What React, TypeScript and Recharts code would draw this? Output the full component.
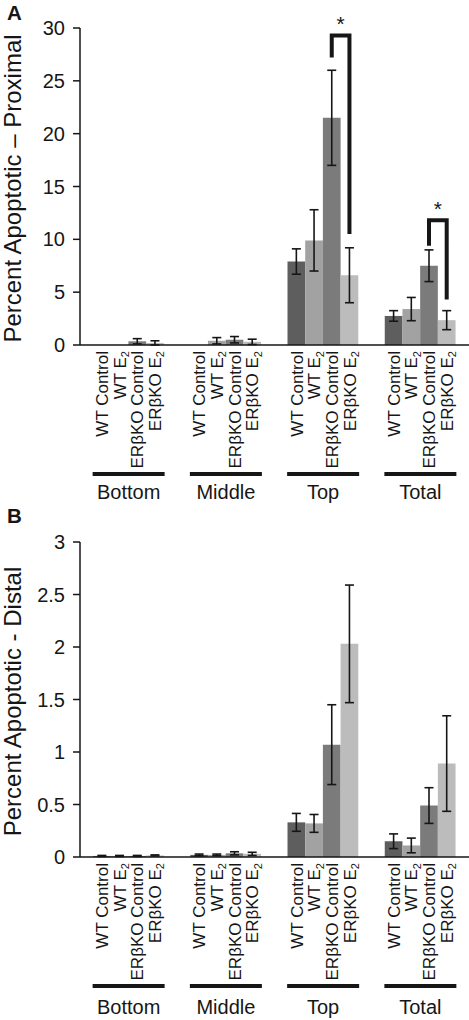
import React from 'react';
import { BarChart, Bar, XAxis, YAxis, ErrorBar, LabelList } from 'recharts';

const FONT = '"Liberation Sans", Arial, Helvetica, sans-serif';
const INK = '#161616';
const BAR_SIZE = 17.7;

const groups = ['Bottom', 'Middle', 'Top', 'Total'];
const seriesNames = ['WT Control', 'WT E', 'ERβKO Control', 'ERβKO E'];
const seriesSubs = ['', '2', '', '2'];
const seriesColors = ['#5e5e5e', '#a2a2a2', '#7b7b7b', '#bcbcbc'];

// A: percent apoptotic, proximal
const proxWtControl = [0, 0, 7.9, 2.75];
const proxWtControlErr = [0, 0, 1.2, 0.5];
const proxWtE2 = [0, 0.4, 9.9, 3.4];
const proxWtE2Err = [0, 0.3, 2.9, 1.1];
const proxKoControl = [0.35, 0.5, 21.5, 7.5];
const proxKoControlErr = [0.25, 0.3, 4.5, 1.5];
const proxKoE2 = [0.2, 0.3, 6.6, 2.35];
const proxKoE2Err = [0.2, 0.25, 2.6, 0.9];
const yTicksProximal = [0, 5, 10, 15, 20, 25, 30];

// significance brackets (ERβKO Control vs ERβKO E2), in data units
const bracketTop = [null, null, 29.3, 11.8];
const bracketLeftEnd = [null, null, 27.2, 9.4];
const bracketRightEnd = [null, null, 10.5, 4.3];

// B: percent apoptotic, distal
const distWtControl = [0.01, 0.02, 0.33, 0.15];
const distWtControlErr = [0.005, 0.008, 0.085, 0.07];
const distWtE2 = [0.01, 0.02, 0.32, 0.11];
const distWtE2Err = [0.005, 0.008, 0.085, 0.07];
const distKoControl = [0.01, 0.035, 1.07, 0.49];
const distKoControlErr = [0.005, 0.015, 0.38, 0.17];
const distKoE2 = [0.015, 0.03, 2.03, 0.89];
const distKoE2Err = [0.005, 0.015, 0.56, 0.455];
const yTicksDistal = [0, 0.5, 1, 1.5, 2, 2.5, 3];

function buildRows(values: number[][], errors: number[][]) {
  return groups.map((g, i) => {
    const row: Record<string, any> = { group: g };
    values.forEach((v, s) => {
      row[`v${s}`] = v[i];
      row[`e${s}`] = errors[s][i];
    });
    return row;
  });
}

const proximalRows = buildRows(
  [proxWtControl, proxWtE2, proxKoControl, proxKoE2],
  [proxWtControlErr, proxWtE2Err, proxKoControlErr, proxKoE2Err]
);
const distalRows = buildRows(
  [distWtControl, distWtE2, distKoControl, distKoE2],
  [distWtControlErr, distWtE2Err, distKoControlErr, distKoE2Err]
);

function boxOf(props: any) {
  const vb = props.viewBox || props;
  return { x: Number(vb.x), y: Number(vb.y), width: Number(vb.width), height: Number(vb.height) };
}

function Bracket(props: any) {
  const i = props.index;
  const top = bracketTop[i];
  if (top == null) return null;
  const { x, y, width, height } = boxOf(props);
  const base = y + height;
  const k = height / proxKoControl[i];
  const py = (v: number) => base - v * k;
  const x1 = x + width / 2;
  const x2 = x + width * 1.5;
  return (
    <g>
      <path
        d={`M${x1},${py(bracketLeftEnd[i] as number)} V${py(top)} H${x2} V${py(bracketRightEnd[i] as number)}`}
        fill="none"
        stroke={INK}
        strokeWidth={4}
      />
      <text x={(x1 + x2) / 2} y={py(top) - 4} textAnchor="middle" fontSize={21} fontFamily={FONT} fill={INK}>
        *
      </text>
    </g>
  );
}

// category tick: rotated series names under each bar, a rule, and the group name
function GroupTick(props: any) {
  const { x, y, payload, nameOffset } = props;
  return (
    <g>
      {seriesNames.map((name, s) => {
        const cx = x + (s - 1.5) * BAR_SIZE;
        const ty = y + 6;
        return (
          <text
            key={s}
            x={cx}
            y={ty}
            dy="0.35em"
            transform={`rotate(-90 ${cx} ${ty})`}
            textAnchor="end"
            fontSize={17}
            fontFamily={FONT}
            fill={INK}
          >
            {name}
            {seriesSubs[s] ? (
              <tspan dy="0.3em" fontSize={11}>
                {seriesSubs[s]}
              </tspan>
            ) : null}
          </text>
        );
      })}
      <line x1={x - 36} x2={x + 36} y1={y + 129} y2={y + 129} stroke={INK} strokeWidth={4} />
      <text x={x} y={y + nameOffset} textAnchor="middle" fontSize={20} fontFamily={FONT} fill={INK}>
        {payload.value}
      </text>
    </g>
  );
}

function YTitle(props: any) {
  const vb = props.viewBox || {};
  const cy = Number(vb.y) + Number(vb.height) / 2 + 2;
  return (
    <g>
      <text x={7} y={props.letterY} fontSize={20.5} fontWeight="bold" fontFamily={FONT} fill={INK}>
        {props.letter}
      </text>
      <text
        x={21}
        y={cy}
        transform={`rotate(-90 21 ${cy})`}
        textAnchor="middle"
        fontSize={24}
        fontFamily={FONT}
        fill={INK}
      >
        {props.title}
      </text>
    </g>
  );
}

function Panel(props: {
  rows: Record<string, any>[];
  ticks: number[];
  title: string;
  letter: string;
  letterY: number;
  height: number;
  top: number;
  axisHeight: number;
  nameOffset: number;
  brackets?: boolean;
}) {
  const { rows, ticks } = props;
  return (
    <BarChart
      width={469}
      height={props.height}
      data={rows}
      margin={{ top: props.top, right: 0, bottom: 0, left: 0 }}
      barGap={0}
    >
      <XAxis
        dataKey="group"
        height={props.axisHeight}
        axisLine={{ stroke: INK, strokeWidth: 1.5 }}
        tickLine={false}
        tickSize={0}
        tickMargin={0}
        interval={0}
        tick={<GroupTick nameOffset={props.nameOffset} />}
      />
      <YAxis
        width={80}
        domain={[ticks[0], ticks[ticks.length - 1]]}
        ticks={ticks}
        interval={0}
        axisLine={{ stroke: INK, strokeWidth: 1.5 }}
        tickLine={{ stroke: INK, strokeWidth: 1.5 }}
        tickSize={7}
        tickMargin={8}
        tick={{ fontSize: 20, fill: INK, fontFamily: FONT }}
        label={<YTitle title={props.title} letter={props.letter} letterY={props.letterY} />}
      />
      {seriesColors.map((c, s) => (
        <Bar key={s} dataKey={`v${s}`} fill={c} barSize={BAR_SIZE} isAnimationActive={false}>
          <ErrorBar dataKey={`e${s}`} width={4.5} stroke={INK} strokeWidth={1.6} />
          {props.brackets && s === 2 ? <LabelList content={(p: any) => <Bracket {...p} />} /> : null}
        </Bar>
      ))}
    </BarChart>
  );
}

export default function App() {
  return (
    <div style={{ position: 'absolute', left: 0, top: 0, width: 469, height: 1020, background: '#fff' }}>
      <Panel
        rows={proximalRows}
        ticks={yTicksProximal}
        title="Percent Apoptotic – Proximal"
        letter="A"
        letterY={20}
        height={504}
        top={28}
        axisHeight={159}
        nameOffset={154}
        brackets
      />
      <Panel
        rows={distalRows}
        ticks={yTicksDistal}
        title="Percent Apoptotic - Distal"
        letter="B"
        letterY={19}
        height={516}
        top={38}
        axisHeight={163}
        nameOffset={157}
      />
    </div>
  );
}
